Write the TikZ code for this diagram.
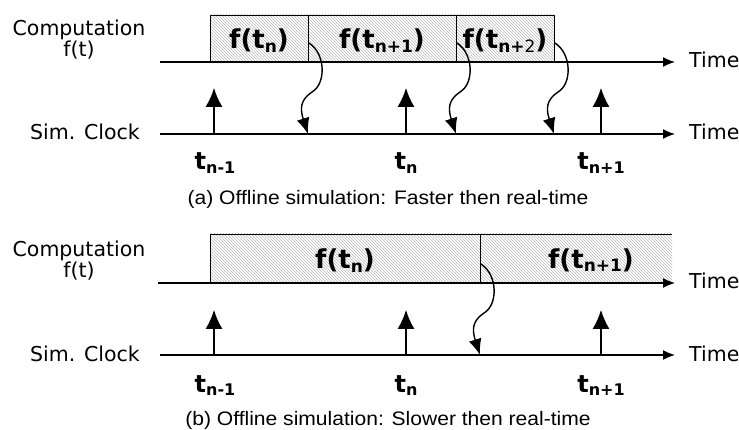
\documentclass[tikz,border=0pt]{standalone}
\usepackage{fontspec}
\setmainfont{DejaVu Sans}
\newfontfamily\capfont{Liberation Sans}
\usetikzlibrary{arrows.meta,patterns,calc}
\newcommand{\fsub}[1]{{\bfseries f(t\raisebox{-3.5pt}{\fontsize{17}{17}\selectfont #1})}}
\newcommand{\tsub}[1]{{\bfseries t\raisebox{-3.5pt}{\fontsize{16}{16}\selectfont #1}}}
\newcommand{\sarrow}[2]{%
  \draw[carrow] ($(#1.south east)+(1,-19)$) .. controls ($(#1.south east)+(18,-8)$) and ($(#1.south east)+(18,22)$) .. ($(#1.south east)+(4,30)$) .. controls ($(#1.south east)+(-8,38)$) and ($(#1.south east |- #2)+(-8,-25)$) .. (#1.south east |- #2);}
\begin{document}
\begin{tikzpicture}[x=1pt,y=-1pt,
  lab/.style={font=\fontsize{20.5}{21}\selectfont, inner sep=0pt},
  fbox/.style={font=\fontsize{26}{26}\selectfont, inner sep=0pt},
  tlab/.style={font=\fontsize{24}{24}\selectfont, inner sep=0pt, anchor=base},
  captext/.style={font=\capfont\fontsize{19.5}{19.5}\selectfont, inner sep=0pt, anchor=base},
  hatch/.style={pattern=north west lines, pattern color=gray!55, inner sep=0pt, outer sep=0pt},
  hbox/.style={hatch, draw, line width=0.9pt},
  tline/.style={line width=1.4pt, -{Latex[length=12pt,width=10pt]}},
  uparrow/.style={line width=1.3pt, -{Latex[length=19pt,width=17pt]}},
  carrow/.style={line width=1.4pt, -{Latex[length=16pt,width=13pt]}}]
\useasboundingbox (0,0) rectangle (739,430);

% ---------- panel (a) ----------
\node[hbox, minimum width=98pt, minimum height=47pt, anchor=north west] (a1) at (210,15) {};
\node[hbox, minimum width=148pt, minimum height=47pt, anchor=north west] (a2) at (308,15) {};
\node[hbox, minimum width=98pt, minimum height=47pt, anchor=north west] (a3) at (456,15) {};
\node[fbox] (fa1) at ($(a1.center)+(0,2)$) {\fsub{n}};
\node[fbox] (fa2) at ($(a2.center)+(0,2)$) {\fsub{n+1}};
\node[fbox] (fa3) at ($(a3.center)+(0,2)$) {{\bfseries f(t\raisebox{-3.5pt}{\fontsize{17}{17}\selectfont n+\mdseries 2})}};

\coordinate (ca0) at (160,62);
\coordinate (ca1) at (675,62);
\coordinate (sa0) at (160,134);
\coordinate (sa1) at (675,134);
\draw[tline] (ca0) -- (ca1);
\draw[tline] (sa0) -- (sa1);

\node[lab, align=center, anchor=base] (compa) at (79,57) {Computation\\f(t)};
\node[lab, anchor=base east] (clka) at (140,140) {Sim. Clock};
\node[lab, anchor=base west] (timea1) at (689,68) {Time};
\node[lab, anchor=base west] (timea2) at (689,140) {Time};

\coordinate (ua1) at (214,88);
\coordinate (ua2) at (406,88);
\coordinate (ua3) at (601,88);
\draw[uparrow] (ua1 |- sa0) -- (ua1);
\draw[uparrow] (ua2 |- sa0) -- (ua2);
\draw[uparrow] (ua3 |- sa0) -- (ua3);

\node[tlab] (ta1) at (215,170) {\tsub{n-1}};
\node[tlab] (ta2) at (406,170) {\tsub{n}};
\node[tlab] (ta3) at (601,170) {\tsub{n+1}};

\sarrow{a1}{sa0}
\sarrow{a2}{sa0}
\sarrow{a3}{sa0}

\node[captext] (capa) at (388,205) {\scalebox{1.08}[1]{(a) Offline simulation: Faster then real-time}};

% ---------- panel (b) ----------
\node[hbox, minimum width=270pt, minimum height=49pt, anchor=north west] (b1) at (210,234) {};
\node[hatch, minimum width=192pt, minimum height=49pt, anchor=north west] (b2) at (480,234) {};
\draw[line width=0.9pt] (b2.south west) -- (b2.north west) -- (b2.north east);
\node[fbox] (fb1) at ($(b1.center)+(0,2)$) {\fsub{n}};
\node[fbox] (fb2) at (591,260) {\fsub{n+1}};

\coordinate (cb0) at (158,283);
\coordinate (cb1) at (675,283);
\coordinate (sb0) at (160,355);
\coordinate (sb1) at (675,355);
\draw[tline] (cb0) -- (cb1);
\draw[tline] (sb0) -- (sb1);

\node[lab, align=center, anchor=base] (compb) at (79,278) {Computation\\f(t)};
\node[lab, anchor=base east] (clkb) at (140,361) {Sim. Clock};
\node[lab, anchor=base west] (timeb1) at (689,289) {Time};
\node[lab, anchor=base west] (timeb2) at (689,361) {Time};

\coordinate (ub1) at (214,310);
\coordinate (ub2) at (406,310);
\coordinate (ub3) at (601,310);
\draw[uparrow] (ub1 |- sb0) -- (ub1);
\draw[uparrow] (ub2 |- sb0) -- (ub2);
\draw[uparrow] (ub3 |- sb0) -- (ub3);

\node[tlab] (tb1) at (215,392) {\tsub{n-1}};
\node[tlab] (tb2) at (406,392) {\tsub{n}};
\node[tlab] (tb3) at (601,392) {\tsub{n+1}};

\sarrow{b1}{sb0}

\node[captext] (capb) at (388,425) {\scalebox{1.08}[1]{(b) Offline simulation: Slower then real-time}};
\end{tikzpicture}
\end{document}
